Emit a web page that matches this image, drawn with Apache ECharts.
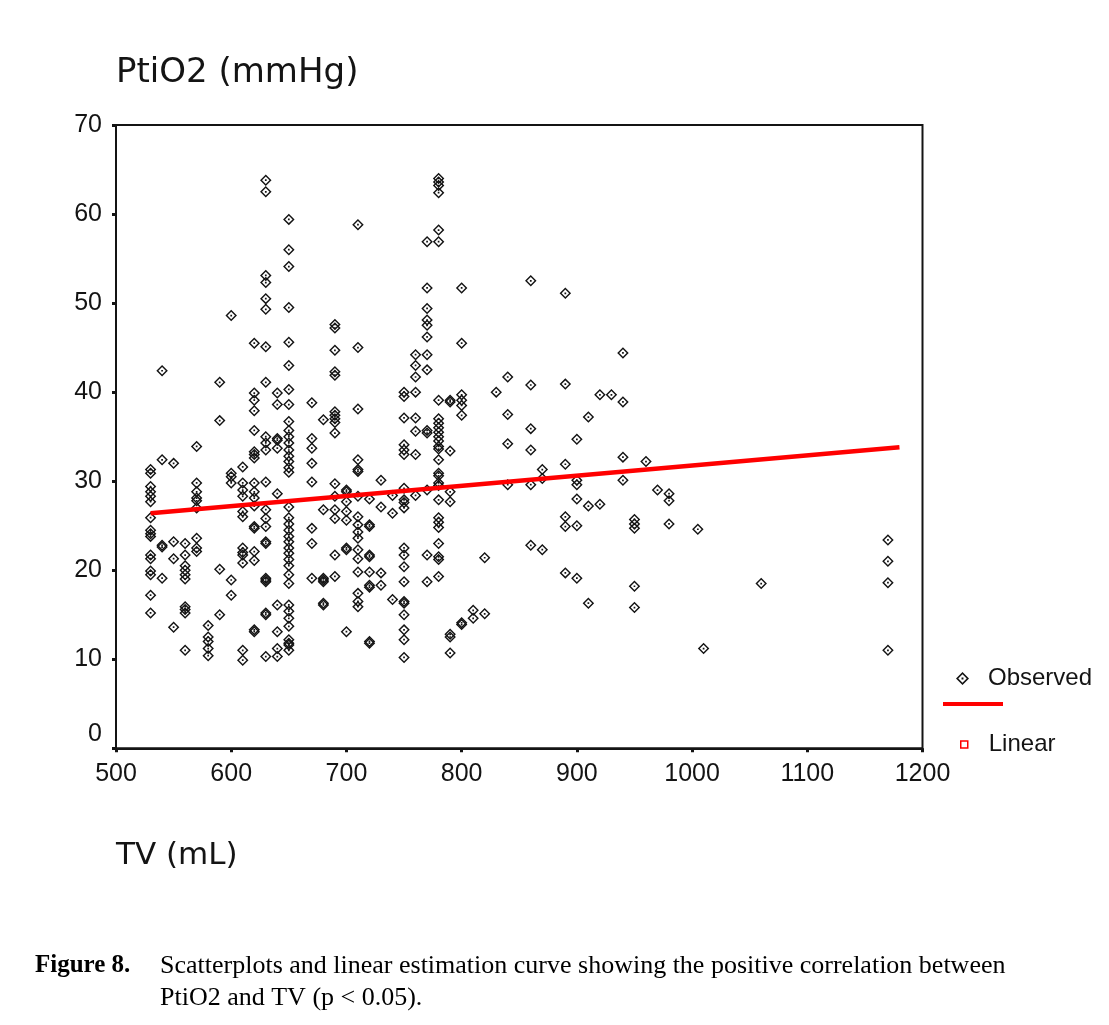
<!DOCTYPE html>
<html>
<head>
<meta charset="utf-8">
<title>PtiO2 vs TV</title>
<script src="https://cdn.jsdelivr.net/npm/echarts@6/dist/echarts.min.js"></script>
<style>
  html, body { margin: 0; padding: 0; background: #ffffff; }
  #chart { width: 1109px; height: 1025px; }
</style>
</head>
<body>
<div id="chart"></div>
<script>
// Tidal volume levels (mL) and the PtiO2 readings (mmHg) recorded at each level
const tvLevels = [530, 540, 550, 560, 570, 580, 590, 600, 610, 620, 630, 640, 650, 670, 680, 690, 700, 710, 720, 730, 740, 750, 760, 770, 780, 790, 800, 810, 820, 830, 840, 860, 870, 890, 900, 910, 920, 930, 940, 950, 960, 970, 980, 1005, 1010, 1060, 1170];
const ptio2ByLevel = [
  [31.3, 30.9, 29.4, 28.8, 28.3, 27.7, 25.9, 24.5, 24.1, 23.8, 21.7, 21.3, 19.9, 19.5, 17.2, 15.2],
  [42.4, 32.4, 22.8, 22.6, 19.1],
  [32.0, 23.2, 21.3, 13.6],
  [23.0, 21.7, 20.5, 20.0, 19.5, 19.0, 15.9, 15.6, 15.2, 11.0],
  [33.9, 29.8, 28.8, 28.1, 27.8, 27.0, 23.6, 22.5, 22.1],
  [13.8, 12.5, 12.0, 11.2, 10.4],
  [41.1, 36.8, 20.1, 15.0],
  [48.6, 30.9, 30.5, 29.8, 18.9, 17.2],
  [31.6, 29.8, 29.0, 28.3, 26.6, 26.0, 22.5, 22.0, 21.7, 20.8, 11.0, 9.9],
  [45.5, 39.9, 39.1, 37.9, 35.7, 33.3, 33.0, 32.6, 29.8, 28.8, 28.1, 27.2, 24.9, 24.7, 22.1, 21.1, 13.3, 13.1],
  [63.8, 62.5, 53.1, 52.3, 50.5, 49.3, 45.1, 41.1, 35.0, 34.3, 33.5, 29.9, 26.8, 25.8, 24.9, 23.2, 23.0, 19.1, 18.9, 18.7, 15.2, 15.0, 10.3],
  [39.9, 38.6, 34.8, 34.6, 33.7, 28.6, 16.1, 13.1, 11.2, 10.3],
  [59.4, 56.0, 54.1, 49.5, 45.6, 43.0, 40.3, 38.6, 36.7, 35.7, 35.0, 34.3, 33.5, 32.8, 32.2, 31.5, 31.0, 27.1, 25.9, 25.2, 24.5, 23.8, 23.2, 22.5, 21.9, 21.2, 20.5, 19.5, 18.5, 16.1, 15.4, 14.6, 13.7, 12.2, 11.8, 11.6, 11.0],
  [38.8, 34.8, 33.7, 32.0, 29.9, 24.7, 23.0, 19.1],
  [36.9, 26.8, 19.1, 18.9, 18.7, 16.3, 16.1],
  [47.6, 47.2, 44.7, 42.3, 41.9, 37.8, 37.4, 37.0, 36.6, 35.4, 29.7, 28.3, 26.8, 25.8, 21.7, 19.3],
  [29.0, 28.8, 27.7, 26.6, 25.6, 22.5, 22.3, 13.1],
  [58.8, 45.0, 38.1, 32.4, 31.3, 31.1, 28.3, 26.0, 25.1, 24.3, 23.6, 22.3, 21.3, 19.8, 17.4, 16.5, 15.9],
  [28.0, 25.1, 24.9, 21.7, 21.5, 19.8, 18.3, 18.1, 12.0, 11.8],
  [30.1, 27.1, 19.7, 18.3],
  [28.4, 26.4, 16.7],
  [40.0, 39.5, 37.1, 34.1, 33.5, 33.0, 29.2, 27.9, 27.6, 27.0, 22.5, 21.7, 20.4, 18.7, 16.5, 16.3, 15.0, 13.3, 12.2, 10.2],
  [44.2, 43.0, 41.7, 40.0, 37.1, 35.6, 33.0, 28.4],
  [56.9, 51.7, 49.4, 48.1, 47.5, 46.2, 44.2, 42.5, 35.7, 35.4, 29.0, 21.7, 18.7],
  [64.0, 63.6, 63.2, 62.4, 58.2, 56.9, 39.1, 37.0, 36.5, 36.0, 35.5, 35.0, 34.5, 33.9, 33.6, 32.4, 30.9, 30.6, 29.8, 29.5, 27.9, 25.9, 25.4, 24.8, 23.0, 21.5, 21.2, 19.3],
  [39.1, 38.9, 33.4, 28.8, 27.7, 12.8, 12.5, 10.7],
  [51.7, 45.5, 39.7, 39.1, 38.5, 37.4, 14.1, 13.9],
  [15.5, 14.6],
  [21.4, 15.1],
  [40.0],
  [41.7, 37.5, 34.2, 29.6],
  [52.5, 40.8, 35.9, 33.5, 29.6, 22.8],
  [31.3, 30.3, 22.3],
  [51.1, 40.9, 31.9, 26.0, 24.9, 19.7],
  [34.7, 30.1, 29.6, 28.0, 25.0, 19.1],
  [37.2, 27.2, 16.3],
  [39.7, 27.4],
  [39.7],
  [44.4, 38.9, 32.7, 30.1],
  [25.7, 25.2, 24.7, 18.2, 15.8],
  [32.2],
  [29.0],
  [28.6, 27.8, 25.2],
  [24.6],
  [11.2],
  [18.5],
  [23.4, 21.0, 18.6, 11.0]
];

// Fitted linear estimate, given at the two ends of the fitted range
const linearTV = [530, 1180];
const linearPtiO2 = [26.4, 33.8];

// Axis tick values
const xTicks = [500, 600, 700, 800, 900, 1000, 1100, 1200];
const yTicks = [0, 10, 20, 30, 40, 50, 60, 70];

const observed = [];
tvLevels.forEach((tv, i) => {
  ptio2ByLevel[i].forEach(p => observed.push([tv, p]));
});
const linear = linearTV.map((tv, i) => [tv, linearPtiO2[i]]);

// Hollow diamond with a centre dot
const diamondRing = 'path://M5 0L10 5L5 10L0 5Z M5 1.75L1.75 5L5 8.25L8.25 5Z M4.25 4.25L5.75 4.25L5.75 5.75L4.25 5.75Z';

const ink = '#141414';
const sans = '"Liberation Sans", Arial, sans-serif';
const serif = '"Liberation Serif", "Times New Roman", serif';

const chart = echarts.init(document.getElementById('chart'), null, { renderer: 'canvas' });

chart.setOption({
  backgroundColor: '#ffffff',
  animation: false,
  grid: {
    left: 116, top: 125, right: 186.5, bottom: 276.7,
    show: true, borderColor: ink, borderWidth: 2, backgroundColor: 'transparent'
  },
  xAxis: {
    type: 'value',
    min: xTicks[0], max: xTicks[xTicks.length - 1], interval: 100,
    axisLine: { show: true, onZero: false, lineStyle: { color: ink, width: 2 } },
    axisTick: { show: true, length: 4, lineStyle: { color: ink, width: 3 } },
    splitLine: { show: false },
    axisLabel: { color: ink, fontFamily: sans, fontSize: 25, margin: 13, formatter: v => String(v) }
  },
  yAxis: {
    type: 'value',
    min: yTicks[0], max: yTicks[yTicks.length - 1], interval: 10,
    axisLine: { show: true, onZero: false, lineStyle: { color: ink, width: 2 } },
    axisTick: { show: true, length: 4, lineStyle: { color: ink, width: 3 } },
    splitLine: { show: false },
    axisLabel: {
      color: ink, fontFamily: sans, fontSize: 25, margin: 14,
      formatter: v => (v === 0 ? '{lift|0}' : String(v)),
      rich: { lift: { fontFamily: sans, fontSize: 25, color: ink, padding: [0, 0, 28, 0] } }
    }
  },
  legend: [
    {
      data: ['Observed'],
      orient: 'vertical', left: 951, top: 661.5,
      itemWidth: 13, itemHeight: 13,
      textStyle: { fontFamily: sans, fontSize: 24, color: ink, padding: [0, 0, 0, 14] }
    },
    {
      data: [{ name: 'Linear', icon: 'rect', itemStyle: { color: '#ffffff', borderColor: '#ff0000', borderWidth: 1.5 } }],
      orient: 'vertical', left: 955, top: 727.5,
      itemWidth: 7, itemHeight: 7,
      textStyle: { fontFamily: sans, fontSize: 24, color: ink, padding: [0, 0, 0, 16] }
    }
  ],
  graphic: [
    { type: 'text', left: 116, top: 56, style: { text: 'PtiO2 (mmHg)', font: '34px "DejaVu Sans", sans-serif', fill: ink } },
    { type: 'text', left: 116, top: 840, style: { text: 'TV (mL)', font: '31px "DejaVu Sans", sans-serif', fill: ink } },
    { type: 'line', shape: { x1: 943, y1: 704, x2: 1003, y2: 704 }, style: { stroke: '#ff0000', lineWidth: 4 } },
    { type: 'text', x: 35, y: 966, style: { text: 'Figure 8.', font: 'bold 25px ' + serif, fill: '#000', textVerticalAlign: 'middle' } },
    { type: 'text', x: 160, y: 966, style: { text: 'Scatterplots and linear estimation curve showing the positive correlation between', font: '26px ' + serif, fill: '#000', textVerticalAlign: 'middle' } },
    { type: 'text', x: 160, y: 998, style: { text: 'PtiO2 and TV (p < 0.05).', font: '26px ' + serif, fill: '#000', textVerticalAlign: 'middle' } }
  ],
  series: [
    {
      name: 'Observed',
      type: 'scatter',
      data: observed,
      symbol: diamondRing,
      symbolSize: 11.5,
      itemStyle: { color: ink, opacity: 1 },
      z: 2
    },
    {
      name: 'Linear',
      type: 'line',
      data: linear,
      showSymbol: false,
      symbol: 'rect',
      lineStyle: { color: '#ff0000', width: 4.5 },
      itemStyle: { color: '#ff0000' },
      z: 3
    }
  ]
});
</script>
</body>
</html>
